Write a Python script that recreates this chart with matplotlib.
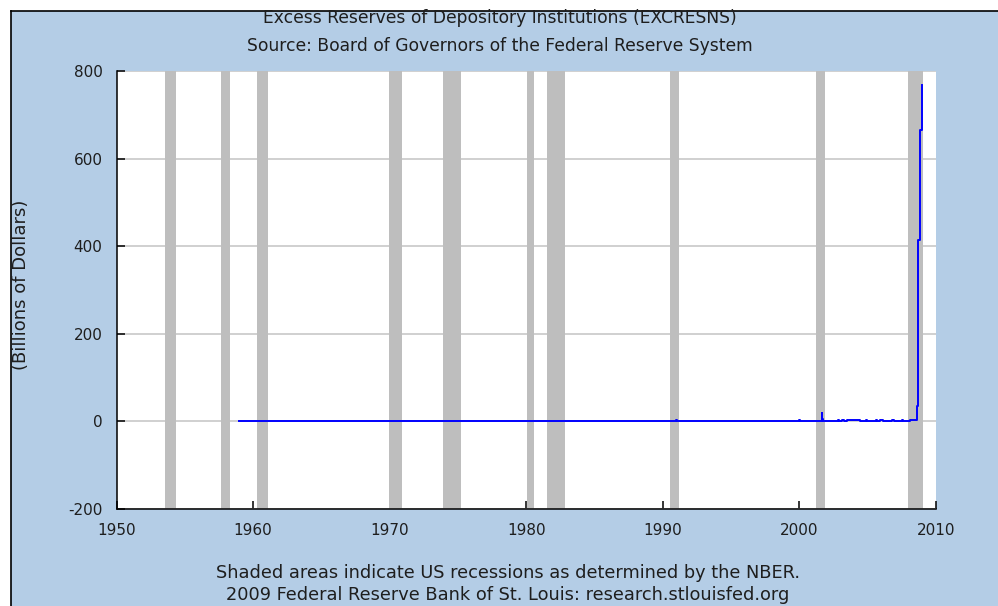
import matplotlib.pyplot as plt
from matplotlib.lines import Line2D
from matplotlib.patches import Rectangle

# Excess reserves, billions of dollars (decimal year, value)
base_years = [1959, 1960, 1961, 1962, 1963, 1964, 1965, 1966, 1967, 1968,
              1969, 1970, 1971, 1972, 1973, 1974, 1975, 1976, 1977, 1978,
              1979, 1980, 1981, 1982, 1983, 1984, 1985, 1986, 1987, 1988,
              1989, 1990]
base_values = [0.5, 0.7, 0.6, 0.5, 0.4, 0.4, 0.4, 0.4, 0.4, 0.4,
               0.3, 0.2, 0.3, 0.3, 0.3, 0.3, 0.3, 0.3, 0.3, 0.3,
               0.3, 0.5, 0.4, 0.5, 0.6, 0.8, 1.0, 1.3, 1.0, 1.0,
               0.9, 1.0]
recent_years = [1990.95, 1991.05, 1992, 1993, 1994, 1995, 1996, 1997, 1998,
                1999, 1999.96, 2000.05, 2001, 2001.62, 2001.66, 2001.70,
                2002, 2002.8, 2002.9, 2003.1, 2003.3, 2003.5, 2004.3, 2004.4,
                2004.85, 2004.95, 2005.6, 2005.7, 2005.9, 2006.1, 2006.8,
                2006.9, 2007.5, 2007.6, 2008.08, 2008.58, 2008.70, 2008.84,
                2008.95]
recent_values = [2.2, 1.2, 1.1, 1.1, 1.2, 1.1, 1.3, 1.4, 1.5,
                 1.4, 3.0, 1.5, 1.4, 20.0, 6.0, 1.6,
                 1.6, 3.5, 2.0, 3.5, 2.0, 3.0, 3.0, 1.8,
                 3.0, 1.8, 3.0, 1.8, 3.0, 1.8, 3.0,
                 1.8, 3.0, 1.8, 4.0, 36.0, 415.0, 665.0,
                 769.0]

dates = base_years + recent_years
values = base_values + recent_values

# NBER recessions (start, end)
recession_start = [1953.54, 1957.62, 1960.29, 1969.96, 1973.87, 1980.04,
                   1981.54, 1990.54, 2001.21, 2007.92]
recession_end = [1954.37, 1958.29, 1961.12, 1970.87, 1975.21, 1980.54,
                 1982.87, 1991.21, 2001.87, 2009.05]

x_ticks = [1950, 1960, 1970, 1980, 1990, 2000, 2010]
y_ticks = [-200, 0, 200, 400, 600, 800]

plt.rcParams["font.family"] = ["DejaVu Sans"]

W, H = 998, 606
bg_blue = "#B4CDE6"
text_col = "#1e1e1e"

fig = plt.figure(figsize=(W / 100, H / 100), dpi=100)
fig.patch.set_facecolor("white")

# framed blue panel behind everything
fig.patches.append(Rectangle((11 / W, 0), 1 - 11 / W, 1 - 11 / H,
                             transform=fig.transFigure, facecolor=bg_blue,
                             edgecolor="none", zorder=-10))
fig.lines.append(Line2D([10.5 / W, 10.5 / W], [0, 1 - 10.5 / H],
                        transform=fig.transFigure, color="black", lw=1.2, zorder=-9))
fig.lines.append(Line2D([10.5 / W, 1], [1 - 10.5 / H, 1 - 10.5 / H],
                        transform=fig.transFigure, color="black", lw=1.2, zorder=-9))

left, right, top, bottom = 116.5, 936, 71, 509
ax = fig.add_axes([left / W, 1 - bottom / H, (right - left) / W, (bottom - top) / H])
ax.set_zorder(1)
ax.set_facecolor("white")

for s, e in zip(recession_start, recession_end):
    ax.axvspan(s, e, color="#BEBEBE", lw=0, zorder=1)

ax.plot(dates, values, color="#0000FF", lw=1.4, drawstyle="steps-post", zorder=3)

ax.set_xlim(1950, 2010)
ax.set_ylim(-200, 800)
ax.set_xticks(x_ticks)
ax.set_yticks(y_ticks)
ax.set_xticklabels([str(t) for t in x_ticks])
ax.set_yticklabels([str(t) for t in y_ticks])
ax.yaxis.grid(True, color="#C8C8C8", lw=1.2, zorder=0)
ax.set_axisbelow(True)

for side in ("top", "right"):
    ax.spines[side].set_visible(False)
for side in ("left", "bottom"):
    ax.spines[side].set_linewidth(1.1)
    ax.spines[side].set_color("black")
    ax.spines[side].set_zorder(4)

ax.tick_params(direction="in", length=6, width=1.1, colors="black",
               labelcolor=text_col, labelsize=11)
ax.tick_params(axis="y", pad=10)
ax.tick_params(axis="x", pad=10)

fig.text(500 / W, 1 - 18 / H, "Excess Reserves of Depository Institutions (EXCRESNS)",
         ha="center", va="center", fontsize=12.3, color=text_col)
fig.text(500 / W, 1 - 46 / H, "Source: Board of Governors of the Federal Reserve System",
         ha="center", va="center", fontsize=12.3, color=text_col)
fig.text(21 / W, 1 - 285 / H, "(Billions of Dollars)", rotation=90,
         ha="center", va="center", fontsize=13, color=text_col)
fig.text(508 / W, 1 - 573 / H, "Shaded areas indicate US recessions as determined by the NBER.",
         ha="center", va="center", fontsize=12.8, color=text_col)
fig.text(508 / W, 1 - 595 / H, "2009 Federal Reserve Bank of St. Louis: research.stlouisfed.org",
         ha="center", va="center", fontsize=12.8, color=text_col)

fig.savefig("out.png", dpi=100, facecolor=fig.get_facecolor())
